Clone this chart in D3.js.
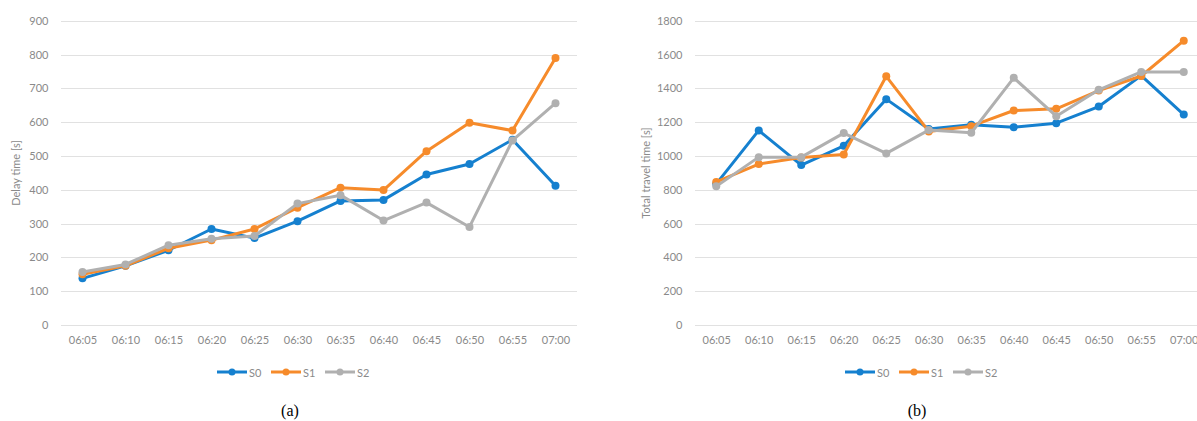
<!DOCTYPE html>
<html><head><meta charset="utf-8">
<script src="https://cdn.jsdelivr.net/npm/d3@7"></script>
<style>
html,body{margin:0;padding:0;background:#fff;}
svg{display:block;}
</style></head>
<body>
<svg id="c" width="1197" height="421"></svg>
<script>
const categories = ["06:05","06:10","06:15","06:20","06:25","06:30","06:35","06:40","06:45","06:50","06:55","07:00"];
const seriesNames = ["S0","S1","S2"];

// (a) Delay time [s]
const delayS0 = [138,175,221,284,257,307,367,370,445,476,548,412];
const delayS1 = [150,175,227,251,284,347,406,399,514,598,575,790];
const delayS2 = [157,179,236,255,263,359,384,309,362,290,546,656];
const delayTicks = [0,100,200,300,400,500,600,700,800,900];

// (b) Total travel time [s]
const travelS0 = [835,1151,946,1060,1336,1159,1184,1170,1194,1292,1475,1245];
const travelS1 = [846,952,991,1009,1471,1145,1176,1269,1279,1387,1473,1682];
const travelS2 = [820,993,993,1135,1015,1153,1137,1462,1235,1391,1497,1497];
const travelTicks = [0,200,400,600,800,1000,1200,1400,1600,1800];

const colors = ["#1580cf","#f68b2b","#b0b0b0"];
const svg = d3.select("#c");
const tickFont = "Lato, 'Open Sans', sans-serif";

function panel(cfg){
  const g = svg.append("g");
  const x = d3.scalePoint().domain(categories).range([cfg.x0, cfg.x1]).padding(0.5);
  const y = d3.scaleLinear().domain([0, cfg.ticks[cfg.ticks.length-1]]).range([325, 20.7]);

  // gridlines
  g.selectAll("line.grid").data(cfg.ticks).enter().append("line")
    .attr("x1", cfg.x0).attr("x2", cfg.x1)
    .attr("y1", d => Math.round(y(d))+0.5).attr("y2", d => Math.round(y(d))+0.5)
    .attr("stroke", "#e1e1e1").attr("stroke-width", 1);

  // y axis labels
  const yAxis = d3.axisLeft(y).tickValues(cfg.ticks).tickFormat(d3.format("d")).tickSize(0).tickPadding(0);
  const ya = g.append("g").attr("transform", `translate(${cfg.x0-12.5},0)`).call(yAxis);
  ya.select(".domain").remove();
  ya.selectAll("text").attr("font-family", tickFont).attr("font-size", 11).attr("fill", "#8a8a8a");

  // x axis labels
  const xAxis = d3.axisBottom(x).tickSize(0).tickPadding(0);
  const xa = g.append("g").attr("transform", `translate(0,336)`).call(xAxis);
  xa.select(".domain").remove();
  xa.selectAll("text").attr("font-family", tickFont).attr("font-size", 11).attr("fill", "#8a8a8a");

  // axis title
  g.append("text")
    .attr("transform", `translate(${cfg.titleX},173) rotate(-90)`)
    .attr("text-anchor", "middle").attr("dominant-baseline", "central")
    .attr("font-family", tickFont).attr("font-size", 11).attr("fill", "#8a8a8a")
    .text(cfg.title);

  // series
  const line = d3.line().x((d,i) => x(categories[i])).y(d => y(d));
  cfg.series.forEach((s, k) => {
    g.append("path").datum(s).attr("d", line)
      .attr("fill", "none").attr("stroke", colors[k]).attr("stroke-width", 3)
      .attr("stroke-linejoin", "round");
    g.selectAll(null).data(s).enter().append("circle")
      .attr("cx", (d,i) => x(categories[i])).attr("cy", d => y(d))
      .attr("r", 4).attr("fill", colors[k]);
  });

  // legend
  seriesNames.forEach((n, k) => {
    const lx = cfg.legendX + k*54;
    g.append("line").attr("x1", lx).attr("x2", lx+30).attr("y1", 372).attr("y2", 372)
      .attr("stroke", colors[k]).attr("stroke-width", 3);
    g.append("circle").attr("cx", lx+15).attr("cy", 372).attr("r", 3.5).attr("fill", colors[k]);
    g.append("text").attr("x", lx+32).attr("y", 372).attr("dominant-baseline", "central")
      .attr("font-family", tickFont).attr("font-size", 11).attr("fill", "#8a8a8a").text(n);
  });

  // caption
  g.append("text").attr("x", cfg.capX).attr("y", 416).attr("text-anchor", "middle")
    .attr("font-family", "'Liberation Serif', 'Times New Roman', serif").attr("font-size", 16)
    .attr("fill", "#000").text(cfg.caption);
}

panel({x0:61, x1:577, ticks:delayTicks, series:[delayS0,delayS1,delayS2],
  title:"Delay time [s]", titleX:15, legendX:217, capX:290, caption:"(a)"});
panel({x0:695, x1:1205, ticks:travelTicks, series:[travelS0,travelS1,travelS2],
  title:"Total travel time [s]", titleX:645, legendX:845, capX:917, caption:"(b)"});
</script>
</body></html>
